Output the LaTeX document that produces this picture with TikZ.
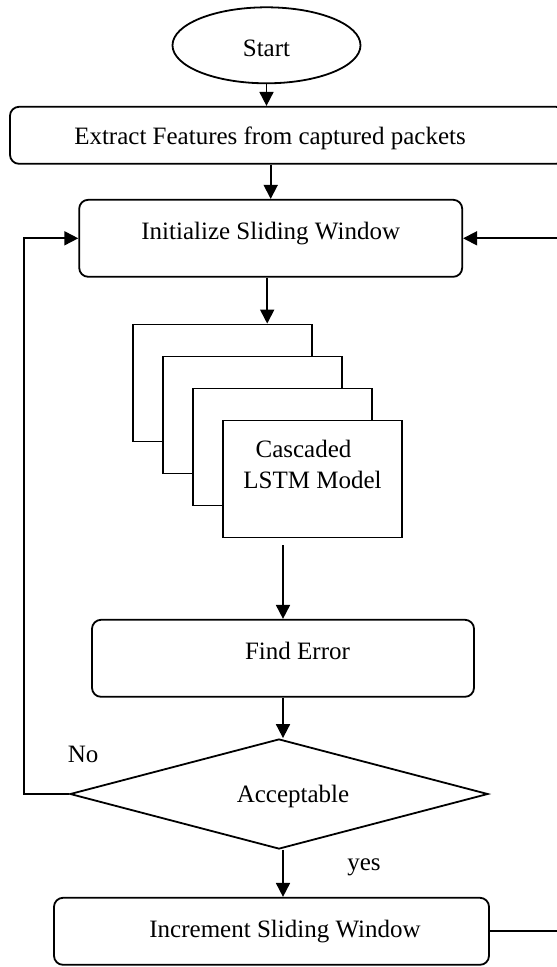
\documentclass[tikz,border=0pt]{standalone}
\usepackage{fontspec}
\setmainfont{Liberation Serif}
\usetikzlibrary{shapes.geometric,arrows.meta}

\tikzset{
  every node/.style={font=\fontsize{25}{31}\selectfont},
  procbox/.style={draw, line width=1.8pt, rounded corners=9pt, fill=white, inner sep=0pt, text height=17pt, text depth=5pt},
  lstmbox/.style={draw, line width=1.8pt, fill=white, minimum width=179pt, minimum height=117pt, inner sep=0pt},
  arr/.style={-{Triangle[length=14pt,width=14pt]}, line width=1.8pt},
}

\begin{document}
\begin{tikzpicture}[x=1pt, y=-1pt]
    \useasboundingbox (0,0) rectangle (557,967);
    \clip (0,0) rectangle (557,967);
    % boxes
    \node[draw, ellipse, line width=1.8pt, minimum width=188pt, minimum height=76pt, inner sep=0pt, text height=24pt, text depth=1pt] (start) at (266.5,45.3) {Start};
    \node[procbox, minimum width=555pt, minimum height=57pt, text height=22pt, text depth=3pt] (extract) at (287.5,135.3) {Extract Features from captured packets\hspace*{35pt}};
    \node[procbox, minimum width=383pt, minimum height=77pt, text depth=14pt] (init) at (270.7,238.3) {Initialize Sliding Window};
    % stacked LSTM blocks
    \foreach \i in {0,...,3}
        \node[lstmbox] (lstm\i) at (222.5+30*\i, 383+32*\i) {};
    \node[align=center] (lstmtext) at ([yshift=15pt]lstm3.center) {Cascaded\hspace*{18pt}\\LSTM Model};
    \node[procbox, minimum width=382pt, minimum height=77pt, text depth=14pt] (find) at (283,658.3) {\hspace*{29pt}Find Error};
    \node[draw, diamond, aspect=3.8, line width=1.8pt, fill=white, minimum width=418pt, minimum height=110pt, inner sep=0pt, text height=20pt, text depth=4pt] (dec) at (279,794) {\hspace*{28pt}Acceptable};
    \node[procbox, minimum width=435pt, minimum height=67pt, text depth=4pt] (inc) at (271.5,931.3) {\hspace*{27pt}Increment Sliding Window};
    \node (nolbl) at ([xshift=14pt, yshift=39.5pt]dec.west) {No};
    % connectors
    \draw[arr] (start.south) -- (start.south |- extract.north);
    \draw[arr] (extract.south -| init.north) -- (init.north);
    \draw[arr] ([xshift=-3.5pt]init.south) -- ([xshift=-3.5pt]init.south |- lstm0.north);
    \draw[arr] ([yshift=-7pt]lstm3.south -| find.north) -- (find.north);
    \draw[arr] (find.south) -- (find.south |- dec.north);
    \draw[arr] (dec.south -| find.south) -- (inc.north -| find.south) node[midway, xshift=81pt, yshift=6.5pt] (yeslbl) {yes};
    \draw[arr] (dec.west) -- ++(-45,0) |- (init.west);
    \draw[arr] (inc.east) -- ++(90,0) |- (init.east);
\end{tikzpicture}
\end{document}
